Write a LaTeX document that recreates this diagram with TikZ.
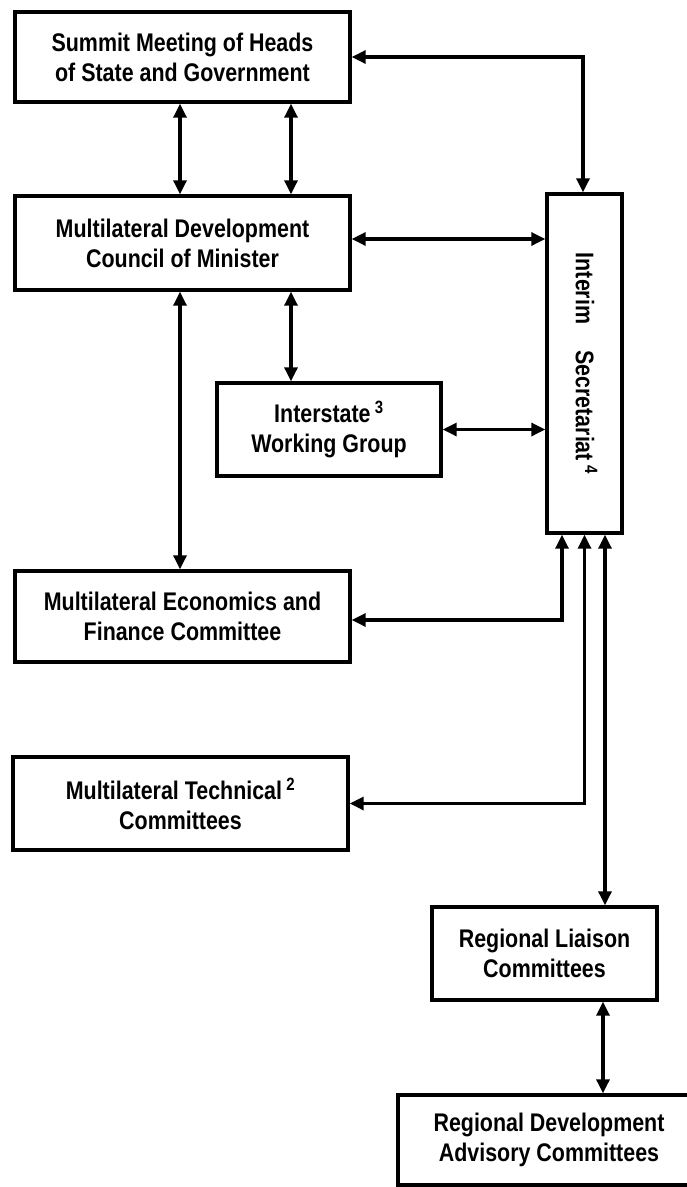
\documentclass[tikz,border=0pt]{standalone}
\usepackage{fontspec}
\setmainfont{Liberation Sans}[FakeStretch=0.84]
\usetikzlibrary{arrows.meta}
\begin{document}
\begin{tikzpicture}[x=1pt,y=-1pt,
  box/.style={draw, line width=3.4pt, inner sep=0pt, align=center,
    font=\fontsize{25.5}{30}\selectfont\bfseries},
  link/.style={line width=3.2pt,
    {Triangle[length=14pt,width=13pt]}-{Triangle[length=14pt,width=13pt]}},
  lbl/.style={font=\fontsize{25.5}{30}\selectfont\bfseries, inner sep=0pt}]
\useasboundingbox (0,0) rectangle (687,1187);
\begin{scope}
\clip (0,0) rectangle (687,1187);
\node[box, minimum width=335, minimum height=90] (sum) at (182.5,57)
  {Summit Meeting of Heads\\of State and Government};
\node[box, minimum width=335, minimum height=94] (coun) at (182.5,243)
  {Multilateral Development\\Council of Minister};
\node[box, minimum width=224, minimum height=93] (wg) at (329,429.5)
  {Interstate\,\textsuperscript{3}\\Working Group};
\node[box, minimum width=75, minimum height=339] (int) at (584.5,363.5) {};
\node[lbl, rotate=-90] (intlbl) at ([xshift=2]int.center) {Interim\hspace{26pt}Secretariat\,\textsuperscript{4}};
\node[box, minimum width=335, minimum height=91] (me) at (182.5,616.5)
  {Multilateral Economics and\\Finance Committee};
\node[box, minimum width=335, minimum height=93] (mt) at (180.5,803.5)
  {Multilateral Technical\,\textsuperscript{2}\\Committees};
\node[box, minimum width=225, minimum height=93] (rl) at (544.5,953.5)
  {Regional Liaison\\Committees};
\node[box, minimum width=302, minimum height=90] (rda) at (549,1140)
  {Regional Development\\Advisory Committees};
\end{scope}

\draw[link] ([xshift=-2.5]sum.south) -- ([xshift=-2.5]coun.north);
\draw[link] ([xshift=108.5]sum.south) -- ([xshift=108.5]coun.north);
\draw[link] (sum.east) -| ([xshift=-1.5]int.north);
\draw[link] ([yshift=4]coun.east) -- ([yshift=4]coun.east -| int.west);
\draw[link] ([xshift=-2.5]coun.south) -- ([xshift=-2.5]coun.south |- me.north);
\draw[link] ([xshift=108.5]coun.south) -- ([xshift=108.5]coun.south |- wg.north);
\draw[link] (wg.east) -- (wg.east -| int.west);
\draw[link] ([xshift=-22.5]int.south) |- ([yshift=-3.5]me.east);
\draw[link] (int.south) |- (mt.east);
\draw[link] ([xshift=20.5]int.south) -- ([xshift=20.5]int.south |- rl.north);
\draw[link] ([xshift=58.5]rl.south) -- ([xshift=58.5]rl.south |- rda.north);
\end{tikzpicture}
\end{document}
